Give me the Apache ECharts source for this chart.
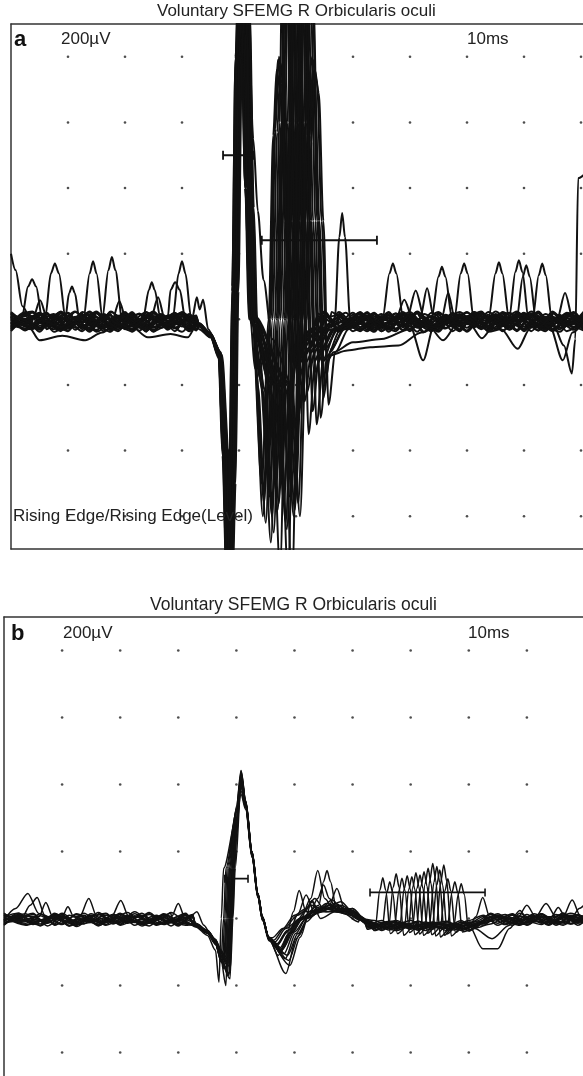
<!DOCTYPE html>
<html><head><meta charset="utf-8">
<script src="https://cdn.jsdelivr.net/npm/echarts@6/dist/echarts.min.js"></script>
<style>html,body{margin:0;padding:0;background:#fff}#c{width:583px;height:1076px}</style>
</head><body><div id="c"></div>
<script>
// ---- text ----
const panelTitle = "Voluntary SFEMG R Orbicularis oculi";
const gainLabel = "200\u00b5V";
const sweepLabel = "10ms";
const triggerLabel = "Rising Edge/Rising Edge(Level)";
const panelLetters = ["a", "b"];

// ---- grid dot positions (ms, µV) ----
const xTicksA = [1,2,3,4,5,6,7,8,9,10];
const xTicksB = [1,2,3,4,5,6,7,8,9];
const yTicks = [-600,-400,-200,0,200,400,600,800];

// ---- baseline sample times (ms); even sweeps use the first, odd sweeps the second ----
const timeBase = [0,0.25,0.5,0.75,1,1.25,1.5,1.75,2,2.25,2.5,2.75,3,3.25,3.5,3.75,4,4.25,4.5,4.75,5,5.25,5.5,5.75,6,6.25,6.5,6.75,7,7.25,7.5,7.75,8,8.25,8.5,8.75,9,9.25,9.5,9.75,10.05];
const timeBaseAlt = [0,0.375,0.625,0.875,1.125,1.375,1.625,1.875,2.125,2.375,2.625,2.875,3.125,3.375,3.625,3.875,4.125,4.375,4.625,4.875,5.125,5.375,5.625,5.875,6.125,6.375,6.625,6.875,7.125,7.375,7.625,7.875,8.125,8.375,8.625,8.875,9.125,9.375,9.625,9.875,10.05];

// ---- panel a: baseline readings per sweep (µV at the sample times) ----
const noiseA = [
[0,-22,14,-8,18,-30,6,-15,22,-35,10,-5,16,-20,0,0,0,0,0,0,0,-28,12,-10,20,-32,8,-18,15,-38,4,-12,22,-26,10,-6,18,-34,6,-16,-4],
[-12,18,-30,4,-16,24,-8,-36,10,-20,14,-28,2,-14,0,0,0,0,0,0,0,10,-24,16,-6,-34,12,-20,24,-10,-30,6,-18,14,-36,20,-4,-26,10,-14,8],
[8,-34,0,20,-18,-6,24,-28,-2,16,-38,12,-22,6,0,0,0,0,0,0,0,-14,20,-30,-4,18,-26,10,-36,16,-8,-22,24,-12,2,-32,14,-20,18,-6,-28],
[-30,6,-14,-36,16,-4,-22,10,-32,20,-10,-26,14,-18,0,0,0,0,0,0,0,18,-8,-28,10,-16,22,-34,0,-20,12,-30,8,-6,-24,16,-36,6,-12,22,-18],
[16,-8,-26,12,-34,18,-14,2,-24,-6,22,-32,8,-10,0,0,0,0,0,0,0,-36,4,14,-22,-2,-30,18,-12,6,-26,20,-38,10,-8,-20,4,24,-30,-10,12],
[-4,24,-18,-28,8,-38,14,-10,18,-30,-2,10,-36,20,0,0,0,0,0,0,0,6,-32,-14,22,-26,-8,16,-38,20,-4,-18,12,-28,22,-10,-34,8,-2,-24,16],
[-36,-2,20,-12,-26,10,-34,22,-6,-18,16,-24,-8,12,0,0,0,0,0,0,0,-20,16,-38,6,12,-16,-30,10,-24,18,-2,-34,20,-14,6,-28,-8,22,-36,2],
[20,-16,-6,-32,22,-12,-28,6,14,-38,-4,18,-20,-30,0,0,0,0,0,0,0,14,-4,20,-30,-12,4,-24,22,-36,-2,16,-22,-10,18,-32,12,-16,-26,8,-20],
[-20,10,-38,14,-2,-22,18,-32,6,-14,-26,22,-4,-16,0,0,0,0,0,0,0,-6,-28,8,-18,22,-36,2,-10,14,-32,-16,6,24,-30,-12,20,-22,-4,16,-34],
[2,-28,16,-20,-10,20,-36,-6,12,-24,8,-38,18,-6,0,0,0,0,0,0,0,-30,22,-14,-36,8,-4,20,-26,-8,10,-34,16,-20,-2,24,-16,-36,12,-6,20],
[-14,22,-10,-30,-2,14,-20,-38,18,-8,-32,4,20,-24,0,0,0,0,0,0,0,20,-12,-34,14,-24,10,-6,-30,22,-18,-8,-36,4,12,-26,-2,18,-32,10,-12],
[12,-6,-34,22,-26,-14,8,-22,-36,14,-12,-4,-28,10,0,0,0,0,0,0,0,-2,18,-22,-10,20,-38,12,-4,-30,6,22,-14,-32,8,-18,24,-6,-24,-36,14],
[-26,14,4,-18,-36,22,-4,16,-28,-10,18,-22,10,-34,0,0,0,0,0,0,0,-24,6,10,-36,-14,16,-28,2,-8,-38,12,-26,18,-4,-30,8,-12,20,-22,-6],
[-8,-38,22,-6,12,-24,-16,20,-12,-34,2,16,-30,-4,0,0,0,0,0,0,0,16,-36,-6,20,-30,-12,14,-20,10,-26,-4,18,-38,-16,22,-8,-28,4,12,-30],
[18,-20,-12,6,-28,2,-38,-10,20,-16,-30,14,-2,-20,0,0,0,0,0,0,0,-34,-2,18,-26,6,-20,-36,16,-14,4,-28,10,-22,24,-6,-32,2,-18,20,-10],
[-32,8,-22,18,-8,-34,12,-18,-4,22,-26,-14,6,16,0,0,0,0,0,0,0,8,-20,-30,-2,18,-28,22,-16,-36,14,-10,-24,12,-34,-4,16,-22,-38,6,-2],
[6,-12,18,-38,-20,8,-6,-26,16,2,-36,-18,22,-12,0,0,0,0,0,0,0,-10,14,-20,-32,24,-6,-18,8,-34,20,-14,4,-30,-8,18,-36,10,-4,-20,24],
[-18,-30,10,-4,24,-16,-26,12,-38,4,-8,20,-34,0,0,0,0,0,0,0,0,22,-30,2,-14,-38,20,-10,-22,16,-6,-36,22,-2,-20,10,-12,-32,14,-26,-8],
[14,2,-26,-14,-6,-36,20,-2,-18,18,-22,-10,-38,8,0,0,0,0,0,0,0,-18,10,-36,18,-8,-24,6,-34,-2,22,-20,-12,16,-28,2,-6,-34,24,-14,4],
[-2,-24,-16,24,-32,6,-20,-30,2,-28,12,-36,16,-26,0,0,0,0,0,0,0,4,-16,-26,-8,-20,14,-32,18,-16,-28,8,-2,-24,20,-36,18,-10,-30,2,-22],
[10,-30,-4,16,-22,-10,20,-34,8,-18,2,-28,12,-8,0,0,0,0,0,0,0,-12,24,-30,2,-20,-6,18,-28,-12,14,-36,6,-22,16,-8,-30,20,-16,4,-26],
[-24,4,20,-34,-12,14,-2,-26,22,-36,16,-6,-24,18,0,0,0,0,0,0,0,2,-18,-4,-32,14,-22,-8,20,-30,-10,12,-24,22,-6,-34,10,-14,-2,18,-28],
[4,-16,-32,2,20,-26,-8,12,-30,-2,24,-20,-12,2,0,0,0,0,0,0,0,-26,8,22,-12,-36,4,-16,12,-20,-34,16,-8,-26,6,20,-22,-2,-36,14,-10],
[-16,20,-8,-24,4,-30,16,-14,-28,10,-20,6,-34,14,0,0,0,0,0,0,0,12,-30,-18,16,-4,-32,20,-6,-28,8,-16,22,-36,-10,12,-26,16,-8,-32,6],
[22,-4,-28,-16,10,-20,-32,24,-10,-26,4,-16,20,-30,0,0,0,0,0,0,0,-8,16,-24,-14,10,-36,-2,22,-18,-26,4,20,-12,-30,-6,14,-24,8,-18,-34]
];

// ---- panel a: read-off potentials per sweep, as segments of [ms, µV] ----
const eventsA = [
[[[0,200],[0.08,150],[0.2,40],[0.35,0]],
 [[3.3,-18],[3.5,-50],[3.65,-110],[3.71,-380],[3.78,-760],[3.83,-480],[3.88,100],[3.94,800],[4.01,1200],[4.10,950],[4.17,350],[4.23,0],[4.40,-500],[4.52,0],[4.60,560],[4.66,760],[4.73,690],[4.81,300],[4.90,-130],[5.02,-90],[5.25,-30]],
 [[6.52,5],[6.64,140],[6.70,170],[6.76,140],[6.88,5]]],
[[[0.19,5],[0.3,100],[0.37,122],[0.44,100],[0.55,0]],
 [[3.3,-15],[3.5,-45],[3.68,-100],[3.79,-400],[3.86,-780],[3.91,-500],[3.96,80],[4.02,780],[4.07,1050],[4.13,950],[4.19,400],[4.25,-10],[4.30,-150],[4.44,-560],[4.56,0],[4.64,580],[4.70,800],[4.77,730],[4.85,300],[4.94,-130],[5.06,-90],[5.29,-30]],
 [[5.68,0],[5.76,250],[5.81,324],[5.86,250],[5.95,0]],
 [[7.38,5],[7.5,130],[7.56,160],[7.62,130],[7.74,0]]],
[[[0.6,5],[0.7,140],[0.77,170],[0.84,140],[0.96,0]],
 [[3.3,-20],[3.5,-55],[3.65,-120],[3.74,-420],[3.81,-800],[3.86,-520],[3.91,60],[3.97,760],[4.04,1150],[4.13,900],[4.2,330],[4.26,-20],[4.33,-200],[4.47,-620],[4.59,0],[4.67,570],[4.73,780],[4.80,700],[4.88,300],[4.97,-130],[5.09,-90],[5.32,-30]],
 [[7.78,5],[7.89,140],[7.95,170],[8.01,140],[8.12,0]]],
[[[0.95,0],[1.02,80],[1.07,100],[1.12,80],[1.2,0]],
 [[3.3,-22],[3.5,-48],[3.66,-105],[3.76,-390],[3.83,-770],[3.88,-490],[3.93,90],[3.99,790],[4.03,960],[4.07,890],[4.14,400],[4.22,0],[4.37,-180],[4.51,-480],[4.63,0],[4.71,600],[4.77,1250],[4.84,1100],[4.92,300],[5.01,-130],[5.13,-90],[5.36,-30]],
 [[8.38,5],[8.5,140],[8.56,174],[8.62,140],[8.74,0]]],
[[[1.27,0],[1.38,140],[1.44,177],[1.5,140],[1.61,0]],
 [[3.3,-16],[3.5,-46],[3.64,-98],[3.72,-410],[3.79,-790],[3.84,-510],[3.89,70],[3.95,770],[4.02,1160],[4.11,920],[4.18,335],[4.24,5],[4.4,-200],[4.54,-540],[4.66,0],[4.74,600],[4.80,1150],[4.87,1000],[4.95,300],[5.04,-300],[5.16,-110],[5.39,-30]],
 [[8.74,5],[8.85,145],[8.91,180],[8.97,145],[9.08,0]]],
[[[1.6,0],[1.71,150],[1.77,190],[1.83,150],[1.95,0]],
 [[3.3,-14],[3.5,-44],[3.67,-102],[3.78,-370],[3.85,-750],[3.90,-470],[3.95,110],[4.01,810],[4.08,1200],[4.17,960],[4.24,355],[4.30,15],[4.44,-210],[4.58,-600],[4.70,0],[4.78,600],[4.84,1100],[4.91,1000],[4.99,300],[5.08,-130],[5.20,-90],[5.43,-30]],
 [[8.87,0],[8.98,130],[9.04,165],[9.1,130],[9.21,0]]],
[[[2.32,5],[2.42,90],[2.47,113],[2.52,90],[2.62,5]],
 [[3.3,-18],[3.5,-52],[3.65,-115],[3.75,-430],[3.82,-810],[3.87,-530],[3.92,90],[3.98,800],[4.03,1050],[4.09,950],[4.15,400],[4.21,0],[4.47,-220],[4.61,-650],[4.73,0],[4.81,600],[4.87,1300],[4.94,1150],[5.02,300],[5.11,-130],[5.23,-90],[5.46,-30]],
 [[9.15,0],[9.26,135],[9.32,170],[9.38,135],[9.49,0]]],
[[[2.45,0],[2.58,67],[2.7,0]],
 [[3.3,-20],[3.5,-50],[3.68,-108],[3.80,-400],[3.87,-770],[3.92,-500],[3.97,85],[4.03,790],[4.10,1170],[4.19,930],[4.26,340],[4.32,-5],[4.51,-200],[4.65,-520],[4.77,0],[4.85,600],[4.91,1000],[4.98,900],[5.06,300],[5.15,-250],[5.27,-100],[5.50,-30]],
 [[7.18,5],[7.3,95],[7.42,5]]],
[[[2.75,5],[2.8,90],[2.88,113],[2.96,90],[3.06,0]],
 [[3.3,-16],[3.5,-47],[3.65,-104],[3.73,-395],[3.80,-780],[3.85,-500],[3.90,95],[3.96,800],[4.00,950],[4.04,880],[4.11,400],[4.19,5],[4.54,-190],[4.68,-580],[4.80,0],[4.88,600],[4.94,1200],[5.01,1050],[5.09,300],[5.18,-130],[5.30,-90],[5.53,-30]],
 [[6.95,5],[7.1,88],[7.25,5]],
 [[7.55,0],[7.67,80],[7.79,0]]],
[[[2.84,5],[2.94,140],[3.0,177],[3.06,140],[3.16,5]],
 [[3.3,-14],[3.5,-45],[3.66,-100],[3.77,-380],[3.84,-760],[3.89,-490],[3.94,100],[4.00,810],[4.07,1190],[4.16,950],[4.23,345],[4.29,0],[4.58,-230],[4.72,-760],[4.84,0],[4.92,600],[4.98,1100],[5.05,1000],[5.13,300],[5.22,-350],[5.34,-120],[5.57,-30]],
 [[9.58,0],[9.72,80],[9.86,0]]],
[[[3.18,5],[3.26,67],[3.31,30],[3.37,60],[3.46,-30],[3.65,-105],[3.74,-390],[3.81,-770],[3.86,-500],[3.91,90],[3.97,790],[4.02,1050],[4.08,950],[4.14,400],[4.20,-10],[4.61,-200],[4.75,-500],[4.87,0],[4.95,600],[5.01,950],[5.08,880],[5.16,300],[5.25,-130],[5.37,-90],[5.60,-30]],
 [[7.0,-20],[7.23,-125],[7.42,-20]]],
[[[0.38,0],[0.51,58],[0.64,0]],
 [[3.3,-17],[3.5,-49],[3.68,-107],[3.79,-405],[3.86,-785],[3.91,-505],[3.96,75],[4.02,780],[4.09,1170],[4.18,935],[4.25,338],[4.31,-8],[4.65,-210],[4.79,-560],[4.91,0],[4.99,600],[5.05,1150],[5.12,1000],[5.20,300],[5.29,-280],[5.41,-110],[5.64,-30]],
 [[9.5,-10],[9.7,-80],[9.84,-165],[9.9,-60],[9.95,430],[10.05,440]]],
[[[1.78,0],[1.9,55],[2.02,0]],
 [[3.3,-19],[3.5,-51],[3.64,-112],[3.71,-415],[3.78,-795],[3.83,-515],[3.88,85],[3.94,795],[3.99,1050],[4.05,950],[4.11,400],[4.17,2],[4.68,-200],[4.82,-620],[4.94,0],[5.02,600],[5.08,1250],[5.15,1100],[5.23,300],[5.32,-130],[5.44,-90],[5.67,-30]],
 [[9.45,-20],[9.68,-125],[9.85,-40]]],
[[[0.3,-20],[0.5,-64],[0.9,-50],[1.3,-64],[1.6,-40],[1.9,-5]],
 [[3.3,-15],[3.5,-46],[3.66,-101],[3.76,-385],[3.83,-765],[3.88,-495],[3.93,95],[3.99,805],[4.06,1185],[4.15,945],[4.22,348],[4.28,8],[4.72,-220],[4.86,-780],[4.98,0],[5.06,600],[5.12,1050],[5.19,950],[5.27,300],[5.36,-320],[5.48,-120],[5.71,-30]],
 [[8.6,-30],[8.89,-90],[9.1,-30]]],
[[[2.1,-20],[2.4,-55],[2.8,-45],[3.1,-55]],
 [[3.3,-30],[3.5,-55],[3.69,-110],[3.81,-400],[3.88,-780],[3.93,-500],[3.98,80],[4.04,790],[4.09,1050],[4.15,950],[4.21,400],[4.27,-6],[4.75,-200],[4.89,-540],[5.01,0],[5.09,600],[5.15,1150],[5.22,1000],[5.30,300],[5.39,-130],[5.51,-90],[5.74,-30]],
 [[7.3,-15],[7.58,-64],[7.85,-10]]],
[[[3.3,-16],[3.5,-48],[3.64,-103],[3.72,-392],[3.79,-772],[3.84,-497],[3.89,88],[3.95,798],[4.02,1188],[4.11,942],[4.18,343],[4.24,0],[4.79,-230],[4.93,-800],[5.05,0],[5.13,600],[5.19,1100],[5.26,1000],[5.34,300],[5.43,-300],[5.55,-110],[5.78,-30]],
 [[8.05,-15],[8.26,-58],[8.5,-12]]],
[[[3.3,-21],[3.5,-53],[3.67,-114],[3.78,-425],[3.85,-805],[3.90,-525],[3.95,70],[4.01,770],[4.06,1050],[4.12,950],[4.18,400],[4.24,-12],[4.82,-210],[4.96,-600],[5.08,0],[5.16,600],[5.22,1200],[5.29,1050],[5.37,300],[5.46,-130],[5.58,-110],[5.9,-95],[6.3,-85],[6.8,-80],[7.2,-40],[7.6,-5]]],
[[[3.3,-12],[3.5,-42],[3.65,-96],[3.75,-375],[3.82,-755],[3.87,-485],[3.92,105],[3.98,815],[4.05,1195],[4.14,955],[4.21,352],[4.27,10],[4.86,-190],[5.00,-520],[5.12,0],[5.20,560],[5.26,800],[5.33,720],[5.41,300],[5.50,-200],[5.62,-90],[5.85,-30]],
 [[6.75,0],[6.9,60],[7.05,0],[7.23,-40],[7.5,-10]]],
[[[3.3,-20],[3.5,-50],[3.68,-106],[3.80,-398],[3.87,-778],[3.92,-498],[3.97,92],[4.03,796],[4.08,1050],[4.14,950],[4.20,400],[4.26,4],[4.9,-200],[5.04,-560],[5.16,0],[5.24,560],[5.30,790],[5.37,720],[5.45,300],[5.54,-130],[5.66,-100],[6.0,-70],[6.5,-60],[7.0,-30]]],
[[[3.3,-13],[3.5,-43],[3.66,-97],[3.77,-382],[3.84,-762],[3.89,-492],[3.94,98],[4.00,808],[4.07,1192],[4.16,952],[4.25,550],[4.33,330],[4.43,120],[4.58,-60],[4.93,-200],[5.07,-600],[5.19,0],[5.27,540],[5.33,760],[5.40,690],[5.48,300],[5.57,-260],[5.69,-100],[5.92,-30]]],
[[[3.3,-17],[3.5,-47],[3.65,-106],[3.74,-400],[3.81,-770],[3.86,-500],[3.91,85],[3.97,790],[4.01,930],[4.05,880],[4.12,400],[4.2,0],[4.28,-150],[4.42,-600],[4.54,0],[4.62,570],[4.68,790],[4.75,720],[4.83,300],[4.92,-200],[5.04,-100],[5.27,-30]]],
[[[3.3,-19],[3.5,-49],[3.66,-108],[3.77,-410],[3.84,-790],[3.89,-510],[3.94,80],[4.0,790],[4.04,940],[4.08,890],[4.15,400],[4.23,0],[4.42,-220],[4.56,-680],[4.68,0],[4.76,600],[4.82,1200],[4.89,1050],[4.97,300],[5.06,-180],[5.18,-100],[5.41,-30]]],
[[[3.3,-15],[3.5,-45],[3.68,-102],[3.80,-395],[3.87,-775],[3.92,-495],[3.97,90],[4.03,800],[4.07,950],[4.11,870],[4.18,400],[4.26,0],[4.56,-210],[4.70,-560],[4.82,0],[4.90,600],[4.96,1100],[5.03,950],[5.11,300],[5.20,-220],[5.32,-100],[5.55,-30]]],
[[[3.3,-18],[3.5,-51],[3.65,-110],[3.73,-405],[3.80,-785],[3.85,-505],[3.90,88],[3.96,795],[4.00,920],[4.04,860],[4.11,400],[4.19,0],[4.70,-200],[4.84,-640],[4.96,0],[5.04,600],[5.10,1150],[5.17,1000],[5.25,300],[5.34,-160],[5.46,-90],[5.69,-30]]],
[[[3.3,-20],[3.5,-50],[3.70,-108],[3.82,-400],[3.89,-780],[3.94,-500],[3.99,85],[4.05,790],[4.09,960],[4.13,900],[4.20,400],[4.28,0],[4.84,-200],[4.98,-580],[5.10,0],[5.18,600],[5.24,1050],[5.31,950],[5.39,300],[5.48,-240],[5.60,-100],[5.83,-30]]]
];

// ---- panel b: baseline readings per sweep (µV at the sample times) ----
const noiseB = [
[-4,10,-14,6,-18,12,-8,2,-16,14,-10,4,-20,8,0,0,0,0,0,0,0,0,0,0,0,-12,-28,-18,-32,-10,-24,-34,-16,6,-14,10,-8,-18,12,-4,-12],
[8,-12,4,-20,10,-6,-16,12,-2,-18,6,-12,10,-14,0,0,0,0,0,0,0,0,0,0,0,-26,-14,-34,-8,-22,-30,-12,-28,-16,4,-10,14,-6,-20,8,0],
[-14,2,16,-10,-4,-20,8,-12,14,-6,-22,12,-4,2,0,0,0,0,0,0,0,0,0,0,0,-8,-32,-20,-12,-36,-16,-26,-6,10,-20,2,-12,14,-8,-16,6],
[12,-18,-6,8,-22,4,14,-14,-8,10,-16,-2,16,-18,0,0,0,0,0,0,0,0,0,0,0,-30,-10,-24,-36,-14,-8,-32,-20,-2,12,-18,6,-10,16,-14,-6],
[-20,6,-2,-14,16,-12,-6,10,-20,2,14,-16,-8,12,0,0,0,0,0,0,0,0,0,0,0,-18,-36,-8,-22,-28,-14,-20,-34,-12,-4,14,-20,4,-8,10,-16],
[2,-8,-20,14,-4,-16,18,-10,6,-22,-4,16,-14,-6,0,0,0,0,0,0,0,0,0,0,0,-34,-18,-28,-6,-20,-36,-10,-24,14,-10,-4,8,-18,2,-12,12],
[-10,16,-12,-2,8,-24,2,-18,12,-8,-14,8,-22,14,0,0,0,0,0,0,0,0,0,0,0,-10,-24,-36,-18,-8,-30,-22,-12,-20,8,-14,-2,12,-16,6,-8],
[14,-4,8,-16,-10,10,-22,4,-12,16,-20,-6,4,-12,0,0,0,0,0,0,0,0,0,0,0,-22,-8,-16,-32,-26,-10,-36,-18,4,-16,8,-10,-2,14,-20,2],
[-16,-2,12,-22,6,-8,10,-20,-4,-12,18,-18,0,8,0,0,0,0,0,0,0,0,0,0,0,-28,-16,-6,-26,-34,-20,-14,-30,-8,10,-20,12,-14,-4,16,-10],
[4,-20,-8,12,-14,16,-12,-2,18,-16,0,-10,-20,10,0,0,0,0,0,0,0,0,0,0,0,-16,-34,-22,-10,-18,-32,-26,-8,12,-6,-16,4,-20,10,-2,-14],
[-8,12,-18,2,-6,-14,6,16,-18,8,-12,14,-6,-16,0,0,0,0,0,0,0,0,0,0,0,-24,-12,-30,-20,-6,-26,-18,-36,-14,2,12,-16,8,-12,-6,14],
[10,-6,-16,16,-20,-2,-10,8,-14,-4,10,-22,12,-4,0,0,0,0,0,0,0,0,0,0,0,-6,-26,-14,-34,-22,-12,-30,-16,6,-18,-4,10,-14,16,-8,-2],
[-18,8,6,-12,12,-20,14,-6,-10,20,-8,-14,6,-10,0,0,0,0,0,0,0,0,0,0,0,-32,-20,-10,-28,-16,-34,-8,-22,-6,14,-12,-18,6,-2,-16,8],
[0,-14,14,-18,-8,8,-18,12,-6,-14,6,-2,-16,12,0,0,0,0,0,0,0,0,0,0,0,-14,-30,-24,-8,-32,-18,-12,-26,16,-8,-20,2,-10,12,-18,4],
[6,16,-10,-4,-16,14,-4,-12,16,-20,-2,10,-10,-20,0,0,0,0,0,0,0,0,0,0,0,-20,-6,-32,-14,-24,-28,-16,-10,-10,6,-6,-14,14,-20,4,10],
[-12,-6,-4,10,-22,-8,12,-16,2,8,-18,-12,14,-2,0,0,0,0,0,0,0,0,0,0,0,-36,-22,-12,-30,-10,-20,-28,-14,2,-12,16,-6,-16,8,-10,-4],
[16,-10,2,-8,4,-18,-12,14,-20,-6,12,-4,-18,6,0,0,0,0,0,0,0,0,0,0,0,-12,-26,-18,-6,-30,-14,-34,-20,-16,10,-2,-18,2,6,-14,12],
[-6,14,-22,6,-12,2,-20,-4,10,-10,-16,18,-8,-14,0,0,0,0,0,0,0,0,0,0,0,-26,-10,-20,-34,-12,-24,-6,-30,8,-20,6,-8,-12,-16,12,-6]
];

// ---- panel b: read-off potentials per sweep, as segments of [ms, µV] ----
const eventsB = [
[[[0,-5],[0.2,30],[0.41,75],[0.6,15]],
 [[3.3,-18],[3.5,-36],[3.64,-62],[3.74,-110],[3.78,0],[3.82,150],[4.0,320],[4.08,400],[4.16,340],[4.27,190],[4.37,70],[4.45,0],[4.56,-60],[4.70,-80],[4.88,-40],[4.98,20],[5.08,84],[5.2,20],[5.5,30],[5.9,20],[6.15,-5]],
 [[6.39,-25],[6.47,85],[6.52,122],[6.57,85],[6.65,-45],[6.8,-20]]],
[[[0.3,0],[0.45,40],[0.57,63],[0.7,10]],
 [[3.3,-22],[3.5,-40],[3.64,-68],[3.76,-134],[3.8,0],[3.84,150],[4.0,325],[4.08,420],[4.16,345],[4.27,195],[4.37,72],[4.45,2],[4.56,-58],[4.75,-100],[4.93,-40],[5.05,-5],[5.18,20],[5.3,54],[5.42,20],[5.7,35],[6.0,15],[6.2,-10]],
 [[6.51,-25],[6.59,77],[6.64,110],[6.69,77],[6.77,-45],[6.95,-20]]],
[[[0.6,5],[0.72,48],[0.84,5]],
 [[3.3,-20],[3.5,-42],[3.64,-72],[3.74,-110],[3.78,-150],[3.82,0],[3.86,150],[4.0,330],[4.08,442],[4.16,350],[4.27,200],[4.37,75],[4.45,5],[4.56,-62],[4.80,-90],[4.98,-40],[5.1,-5],[5.28,60],[5.40,143],[5.52,60],[5.7,20],[6.0,30],[6.2,-8]],
 [[6.62,-25],[6.70,94],[6.75,134],[6.80,94],[6.88,-50],[7.05,-22]]],
[[[1.3,5],[1.46,60],[1.6,5]],
 [[3.3,-16],[3.5,-37],[3.64,-66],[3.74,-100],[3.8,-120],[3.84,0],[3.88,150],[4.0,315],[4.08,410],[4.16,338],[4.27,188],[4.37,68],[4.45,-2],[4.56,-56],[4.66,-70],[4.85,-30],[5.1,0],[5.42,40],[5.50,110],[5.56,143],[5.62,110],[5.72,30],[6.0,25],[6.2,-12]],
 [[6.72,-25],[6.80,84],[6.85,120],[6.90,84],[6.98,-42],[7.15,-18]]],
[[[1.85,5],[2.01,54],[2.15,5]],
 [[3.3,-24],[3.5,-44],[3.64,-76],[3.74,-130],[3.82,-200],[3.86,0],[3.9,150],[4.0,335],[4.08,430],[4.16,348],[4.27,198],[4.37,74],[4.45,4],[4.56,-64],[4.85,-164],[5.03,-60],[5.2,-10],[5.4,20],[5.6,40],[5.73,90],[5.86,30],[6.1,10],[6.3,-10]],
 [[6.81,-25],[6.89,90],[6.94,128],[6.99,90],[7.07,-48],[7.25,-20]]],
[[[2.88,5],[3.0,45],[3.12,0]],
 [[3.3,-19],[3.5,-39],[3.64,-70],[3.74,-112],[3.84,-140],[3.88,0],[3.92,150],[4.0,300],[4.08,390],[4.16,330],[4.27,185],[4.37,65],[4.45,-4],[4.56,-60],[4.72,-110],[4.9,-45],[5.05,10],[5.2,70],[5.35,15],[5.6,30],[5.95,25],[6.2,-6]],
 [[6.89,-25],[6.97,88],[7.02,125],[7.07,88],[7.15,-46],[7.3,-20]]],
[[[3.2,5],[3.32,20],[3.44,-20],[3.55,-45],[3.64,-78],[3.74,-120],[3.85,-160],[3.89,0],[3.93,150],[4.0,290],[4.08,425],[4.16,346],[4.27,196],[4.37,73],[4.45,3],[4.56,-62],[4.90,-125],[5.08,-50],[5.25,10],[5.4,60],[5.5,100],[5.6,60],[5.75,20],[6.0,30],[6.25,-10]],
 [[6.96,-25],[7.04,96],[7.09,137],[7.14,96],[7.22,-50],[7.4,-22]]],
[[[1.0,5],[1.1,35],[1.2,5]],
 [[3.3,-17],[3.5,-38],[3.64,-69],[3.74,-105],[3.86,-130],[3.9,0],[3.94,150],[4.0,280],[4.08,405],[4.16,340],[4.27,190],[4.37,70],[4.45,0],[4.56,-57],[4.62,-57],[4.8,-30],[5.0,10],[5.2,30],[5.35,60],[5.5,30],[5.8,40],[6.1,10],[6.3,-12]],
 [[7.03,-25],[7.11,91],[7.16,130],[7.21,91],[7.29,-44],[7.45,-20]]],
[[[3.3,-21],[3.5,-41],[3.64,-73],[3.74,-125],[3.87,-170],[3.91,0],[3.95,150],[4.0,270],[4.08,440],[4.16,352],[4.27,200],[4.37,76],[4.45,6],[4.56,-61],[4.78,-95],[4.96,-40],[5.15,0],[5.4,25],[5.7,45],[5.95,20],[6.2,-8]],
 [[7.10,-25],[7.18,98],[7.23,140],[7.28,98],[7.36,-48],[7.55,-20]],
 [[8.12,5],[8.24,63],[8.36,5]]],
[[[3.3,-15],[3.5,-36],[3.64,-64],[3.74,-100],[3.88,-125],[3.92,0],[3.96,150],[4.0,250],[4.08,415],[4.16,342],[4.27,192],[4.37,71],[4.45,1],[4.56,-59],[4.68,-85],[4.86,-40],[5.1,-5],[5.35,20],[5.6,40],[5.85,15],[6.1,-10]],
 [[7.17,-25],[7.25,105],[7.30,150],[7.35,105],[7.43,-52],[7.6,-22]],
 [[8.75,2],[8.88,24],[9.0,0]]],
[[[3.3,-23],[3.5,-43],[3.64,-75],[3.74,-130],[3.89,-180],[3.93,0],[3.97,150],[4.0,240],[4.08,435],[4.16,350],[4.27,198],[4.37,74],[4.45,4],[4.56,-63],[4.84,-120],[5.02,-45],[5.2,0],[5.5,25],[5.8,50],[6.0,20],[6.2,-10]],
 [[7.25,-25],[7.33,115],[7.38,164],[7.43,115],[7.51,-55],[7.7,-24]],
 [[8.85,5],[9.0,40],[9.15,5]]],
[[[3.3,-18],[3.5,-39],[3.64,-71],[3.74,-115],[3.90,-145],[3.94,0],[3.98,150],[4.08,395],[4.16,335],[4.27,186],[4.37,66],[4.45,-3],[4.56,-58],[4.76,-100],[4.94,-40],[5.15,5],[5.45,35],[5.75,20],[6.1,5]],
 [[7.32,-25],[7.40,108],[7.45,155],[7.50,108],[7.58,-50],[7.75,-20]],
 [[9.15,5],[9.33,45],[9.5,5]]],
[[[3.3,-14],[3.5,-35],[3.64,-63],[3.74,-95],[3.80,-115],[3.84,0],[3.88,150],[4.0,318],[4.08,380],[4.16,330],[4.27,184],[4.37,64],[4.45,-5],[4.56,-55],[4.70,-75],[4.88,-35],[5.1,0],[5.5,20],[5.9,30],[6.2,0]],
 [[7.37,-25],[7.45,100],[7.50,145],[7.55,100],[7.63,-46],[7.8,-20]],
 [[9.42,5],[9.54,33],[9.66,5]]],
[[[3.3,-22],[3.5,-42],[3.64,-74],[3.74,-122],[3.84,-155],[3.88,0],[3.92,150],[4.0,310],[4.08,420],[4.16,344],[4.27,194],[4.37,72],[4.45,2],[4.56,-62],[4.88,-110],[5.06,-45],[5.25,5],[5.45,30],[5.65,55],[5.85,20],[6.2,-5]],
 [[7.44,-25],[7.52,112],[7.57,160],[7.62,112],[7.70,-52],[7.9,-20]],
 [[9.62,5],[9.78,55],[9.92,8]]],
[[[3.3,-20],[3.5,-40],[3.64,-70],[3.74,-110],[3.86,-135],[3.9,0],[3.94,150],[4.0,285],[4.08,410],[4.16,341],[4.27,191],[4.37,70],[4.45,0],[4.56,-59],[4.74,-90],[4.92,-40],[5.12,0],[5.35,20],[5.55,45],[5.8,25],[6.15,-6]],
 [[7.51,-25],[7.59,83],[7.64,119],[7.69,83],[7.77,-42],[7.95,-18]],
 [[9.8,10],[9.9,30],[10.05,54]]],
[[[3.3,-21],[3.5,-42],[3.64,-74],[3.74,-125],[3.88,-165],[3.92,0],[3.96,150],[4.0,255],[4.08,430],[4.16,347],[4.27,197],[4.37,73],[4.45,3],[4.56,-61],[4.82,-105],[5.0,-40],[5.2,0],[5.5,25],[5.75,38],[6.0,15],[6.3,-8]],
 [[7.63,-25],[7.71,77],[7.76,110],[7.81,77],[7.89,-40],[8.1,-30],[8.4,-60],[8.7,-20]]],
[[[3.3,-17],[3.5,-37],[3.64,-67],[3.74,-100],[3.82,-125],[3.86,0],[3.9,150],[4.0,325],[4.08,400],[4.16,336],[4.27,187],[4.37,67],[4.45,-1],[4.56,-57],[4.64,-65],[4.82,-30],[5.05,10],[5.3,40],[5.55,20],[5.9,25],[6.3,-8]],
 [[7.74,-25],[7.82,73],[7.87,104],[7.92,73],[8.0,-38],[8.2,-15]]],
[[[3.3,-25],[3.5,-50],[3.64,-95],[3.70,-190],[3.74,0],[3.78,150],[4.0,300],[4.08,370],[4.16,325],[4.27,182],[4.37,62],[4.45,-6],[4.56,-66],[4.92,-140],[5.1,-55],[5.3,50],[5.45,0],[5.7,20],[6.0,10],[6.3,-10]],
 [[8.0,-20],[8.24,-90],[8.5,-90],[8.7,-30]]]
];

// ---- cursor markers: [startMs, endMs, levelµV] ----
const markersA = [[3.72,4.26,500],[4.40,6.42,241]];
const markersB = [[3.80,4.20,119],[6.30,8.28,78]];

const FONT = '"Liberation Sans", Arial, sans-serif';
const chart = echarts.init(document.getElementById('c'), null, {renderer: 'canvas'});

function buildSweep(times, noise, segs) {
  const pts = [];
  times.forEach((t, i) => {
    const inside = segs.some(s => t >= s[0][0] && t <= s[s.length - 1][0]);
    if (!inside) pts.push([t, noise[i]]);
  });
  segs.forEach(s => s.forEach(p => pts.push(p)));
  pts.sort((a, b) => a[0] - b[0]);
  return pts;
}
function dotData(xs, ys) {
  const out = [];
  xs.forEach(x => ys.forEach(y => out.push([x, y])));
  return out;
}
function markerPath(m, tick) {
  return [[m[0], m[2] + tick], [m[0], m[2] - tick], [m[0], m[2]], [m[1], m[2]], [m[1], m[2] + tick], [m[1], m[2] - tick]];
}

const series = [];
series.push({type: 'scatter', xAxisIndex: 0, yAxisIndex: 0, data: dotData(xTicksA, yTicks),
  symbolSize: 2.6, itemStyle: {color: '#222'}, silent: true, z: 1});
series.push({type: 'scatter', xAxisIndex: 1, yAxisIndex: 1, data: dotData(xTicksB, yTicks),
  symbolSize: 2.6, itemStyle: {color: '#222'}, silent: true, z: 1});
noiseA.forEach((n, k) => series.push({type: 'line', xAxisIndex: 0, yAxisIndex: 0,
  data: buildSweep(k % 2 ? timeBaseAlt : timeBase, n, eventsA[k]),
  showSymbol: false, symbol: 'none', smooth: 0.3, smoothMonotone: 'x', silent: true, z: 2,
  lineStyle: {color: '#111', width: 2.0}}));
noiseB.forEach((n, k) => series.push({type: 'line', xAxisIndex: 1, yAxisIndex: 1,
  data: buildSweep(k % 2 ? timeBaseAlt : timeBase, n, eventsB[k]),
  showSymbol: false, symbol: 'none', smooth: 0.3, smoothMonotone: 'x', silent: true, z: 2,
  lineStyle: {color: '#111', width: 1.5}}));
markersA.forEach(m => series.push({type: 'line', xAxisIndex: 0, yAxisIndex: 0, data: markerPath(m, 14),
  showSymbol: false, symbol: 'none', silent: true, z: 3, lineStyle: {color: '#111', width: 1.8}}));
markersB.forEach(m => series.push({type: 'line', xAxisIndex: 1, yAxisIndex: 1, data: markerPath(m, 12),
  showSymbol: false, symbol: 'none', silent: true, z: 3, lineStyle: {color: '#111', width: 1.6}}));

const edge = {show: true, onZero: false, lineStyle: {color: '#333', width: 1.5}};
function ax(extra) {
  return Object.assign({type: 'value', axisLine: edge, axisTick: {show: false}, axisLabel: {show: false},
    splitLine: {show: false}}, extra);
}
chart.setOption({
  animation: false,
  backgroundColor: '#fff',
  grid: [
    {left: 11, top: 24, width: 572, height: 525, show: false},
    {left: 4, top: 617, width: 579, height: 459, show: false}
  ],
  xAxis: [
    ax({gridIndex: 0, min: 0, max: 10.035, position: 'bottom'}),
    ax({gridIndex: 1, min: 0, max: 9.966, position: 'top'}),
    ax({gridIndex: 0, min: 0, max: 10.035, position: 'top'})
  ],
  yAxis: [
    ax({gridIndex: 0, min: -700, max: 900, position: 'left'}),
    ax({gridIndex: 1, min: -470, max: 900, position: 'left'})
  ],
  graphic: [
    {type: 'text', left: 157, top: 3, z: 10, style: {text: panelTitle, font: '17px ' + FONT, fill: '#222'}},
    {type: 'text', left: 14, top: 29, z: 10, style: {text: panelLetters[0], font: 'bold 22px ' + FONT, fill: '#111'}},
    {type: 'text', left: 61, top: 31, z: 10, style: {text: gainLabel, font: '17px ' + FONT, fill: '#222'}},
    {type: 'text', left: 467, top: 31, z: 10, style: {text: sweepLabel, font: '17px ' + FONT, fill: '#222'}},
    {type: 'text', left: 13, top: 508, z: 10, style: {text: triggerLabel, font: '17px ' + FONT, fill: '#222'}},
    {type: 'text', left: 150, top: 596, z: 10, style: {text: panelTitle, font: '17.5px ' + FONT, fill: '#222'}},
    {type: 'text', left: 11, top: 623, z: 10, style: {text: panelLetters[1], font: 'bold 22px ' + FONT, fill: '#111'}},
    {type: 'text', left: 63, top: 625, z: 10, style: {text: gainLabel, font: '17px ' + FONT, fill: '#222'}},
    {type: 'text', left: 468, top: 625, z: 10, style: {text: sweepLabel, font: '17px ' + FONT, fill: '#222'}}
  ],
  series: series
});
</script>
</body></html>
